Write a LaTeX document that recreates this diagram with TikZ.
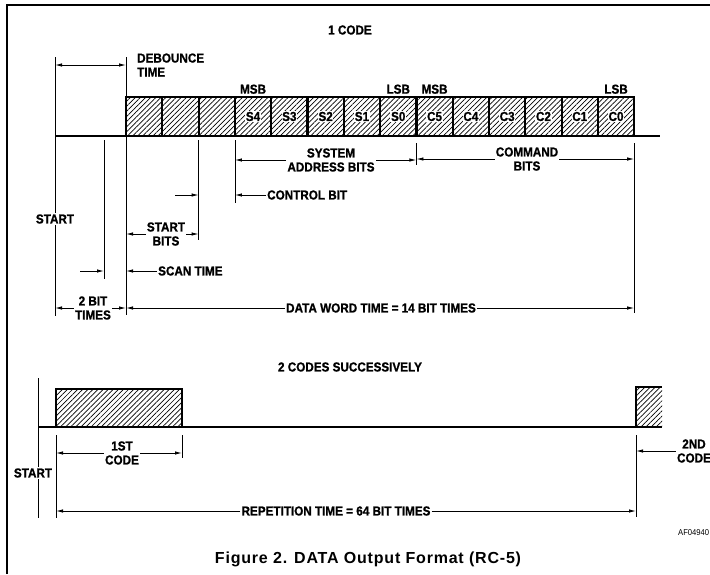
\documentclass[tikz,border=0pt]{standalone}
\usepackage{fontspec}
\setmainfont{Liberation Sans}
\newfontfamily\labfont{Liberation Sans}[FakeStretch=0.9,BoldFeatures={FakeBold=1}]
\newfontfamily\capfont{Liberation Sans}[LetterSpace=5]
\usetikzlibrary{arrows.meta,positioning,calc,patterns.meta}
\newcommand{\lbl}{\labfont\bfseries\fontsize{13}{14}\selectfont}
\begin{document}
\begin{tikzpicture}[x=1pt,y=-1pt,>={Latex[length=7pt,width=3.4pt]}, sig/.style={line width=2.4pt}, cell/.style={draw,line width=2.2pt,minimum width=36.3pt,minimum height=39pt,inner sep=0pt,outer sep=0pt,pattern={Lines[angle=45,distance=3.6pt,line width=0.7pt]}}, bit/.style={fill=white,inner sep=0.6pt,font=\lbl}, txt/.style={font=\lbl,align=center,inner sep=1pt}, ext/.style={line width=0.8pt}, dim/.style={->,line width=0.8pt}]
\useasboundingbox (0,0) rectangle (710,574);
\draw[line width=1.2pt] (7,574) -- (7,5) -- (710,5);
\node[txt] (code) at (350,30) {1 CODE};
% one code word
\coordinate (w0) at (55,136);
\coordinate (w1) at (660,136);
\draw[sig] (w0) -- (w1);
\foreach \i in {1,2,3}
  \node[cell] (c\i) at ({126+36.3*(\i-0.5)},116.5) {};
\foreach \b [count=\i from 4] in {S4,S3,S2,S1,S0,C5,C4,C3,C2,C1,C0}
  \node[cell,label={[bit]center:\b}] (c\i) at ({126+36.3*(\i-0.5)},116.5) {};
\node[txt,above=2pt of c4] (msb1) {MSB};
\node[txt,above=2pt of c8] (lsb1) {LSB};
\node[txt,above=2pt of c9] (msb2) {MSB};
\node[txt,above=2pt of c14] (lsb2) {LSB};
\draw[ext] (55,57) -- (55,316);
\draw[ext] (c1.north west) ++(0,-40) -- ++(0,258);
\draw[ext] (104,140) coordinate (scan) -- (104,279);
\draw[ext] (c2.south east) ++(0,4) -- ++(0,100);
\draw[ext] (c3.south east) ++(0,4) -- ++(0,63);
\draw[ext] (c8.south east) ++(0,7) -- ++(0,22);
\draw[ext] (c14.south east) ++(0,7) -- ++(0,170);
\node[txt,align=left,anchor=west] (deb) at (136,65) {DEBOUNCE\\TIME};
\coordinate (dbL) at (55,65);
\draw[dim,<->] (dbL) -- (dbL -| c1.west);
\node[txt,fill=white] (start1) at (55,219) {START};
\node[txt] (sys) at (331,160) {SYSTEM\\ADDRESS BITS};
\draw[dim] (sys.west) -- (sys.west -| c3.east);
\draw[dim] (sys.east) -- (sys.east -| c8.east);
\node[txt] (cmd) at (527,159) {COMMAND\\BITS};
\draw[dim] (cmd.west) -- (cmd.west -| c8.east);
\draw[dim] (cmd.east) -- (cmd.east -| c14.east);
\coordinate (cbA) at (175,195);
\draw[dim] (cbA) -- (cbA -| c2.east);
\node[txt,anchor=west] (cb) at (266,195) {CONTROL BIT};
\draw[dim] (cb.west) -- (cb.west -| c3.east);
\node[txt] (sb) at (166,234) {START\\BITS};
\draw[dim] (sb.west) -- (sb.west -| c1.west);
\draw[dim] (sb.east) -- (sb.east -| c2.east);
\coordinate (stA) at (80,271);
\draw[dim] (stA) -- (stA -| scan);
\node[txt,anchor=west] (sc) at (157,271) {SCAN TIME};
\draw[dim] (sc.west) -- (sc.west -| c1.west);
\node[txt] (tb) at (93,308) {2 BIT\\TIMES};
\draw[dim] (tb.west) -- (tb.west -| w0);
\draw[dim] (tb.east) -- (tb.east -| c1.west);
\node[txt] (dw) at (381,308) {DATA WORD TIME = 14 BIT TIMES};
\draw[dim] (dw.west) -- (dw.west -| c1.west);
\draw[dim] (dw.east) -- (dw.east -| c14.east);
% two codes
\node[txt] (two) at (350,367) {2 CODES SUCCESSIVELY};
\coordinate (b0) at (38,427);
\node[cell,minimum width=126pt,minimum height=38pt] (code1) at (119,408) {};
\node[inner sep=0pt,outer sep=0pt,minimum width=26pt,minimum height=40pt,pattern={Lines[angle=45,distance=3.6pt,line width=0.7pt]}] (code2) at (649,407) {};
\draw[sig] (b0) -- (code1.south west);
\draw[sig] (code1.south east) -- (code2.south east);
\draw[sig] (code2.south west) -- (code2.north west) -- (code2.north east);
\draw[ext] (38,378) -- (38,518);
\draw[ext] (code1.south west) ++(0,8) -- ++(0,83);
\draw[ext] (code1.south east) ++(0,8) -- ++(0,23);
\draw[ext] (code2.south west) ++(0,8) -- ++(0,82);
\node[txt,fill=white] (start2) at (33,473) {START};
\node[txt] (fc) at (122,453) {1ST\\CODE};
\draw[dim] (fc.west) -- (fc.west -| code1.west);
\draw[dim] (fc.east) -- (fc.east -| code1.east);
\node[txt] (nd) at (694,451) {2ND\\CODE};
\draw[dim] (nd.west) -- (nd.west -| code2.west);
\node[txt] (rep) at (336,511) {REPETITION TIME = 64 BIT TIMES};
\draw[dim] (rep.west) -- (rep.west -| code1.west);
\draw[dim] (rep.east) -- (rep.east -| code2.west);
\node[font=\labfont\fontsize{8.5}{9}\selectfont,anchor=west,inner sep=1pt] (af) at (677,533) {AF04940};
\node[font=\capfont\bfseries\fontsize{16}{19}\selectfont] (cap) at (368,559) {Figure 2. DATA Output Format (RC-5)};
\end{tikzpicture}
\end{document}
